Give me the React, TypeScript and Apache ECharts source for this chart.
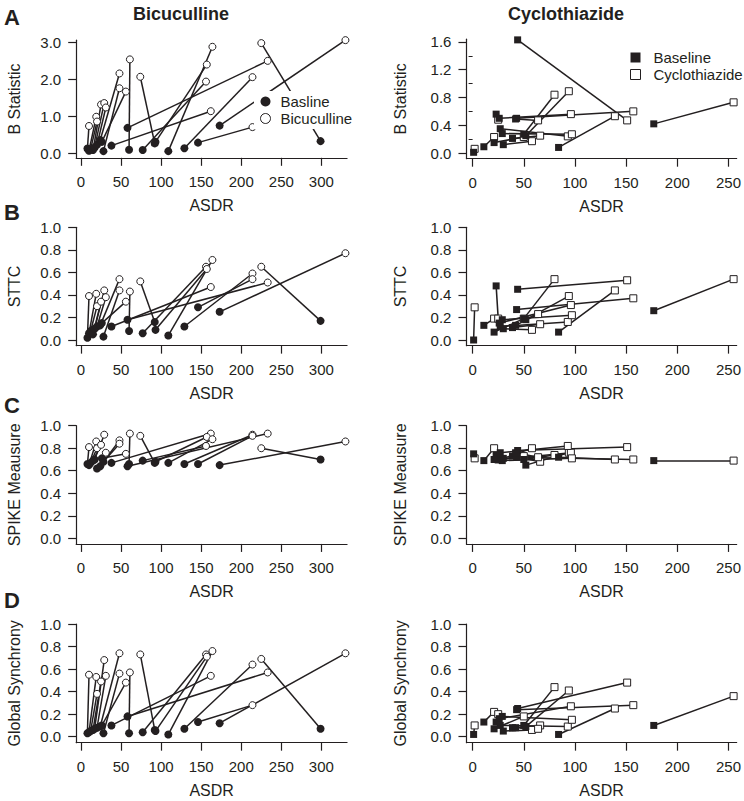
import React, { useEffect, useRef } from "react";
import * as echarts from "echarts";

const INK = "#231f20";
const FONT = "Liberation Sans, Arial, Helvetica, sans-serif";

// ---------- Bicuculline experiments (baseline -> drug) ----------
const bicBaseASDR = [60, 92, 58, 38, 77, 93, 109, 129, 146, 173, 299, 8, 10, 12, 15, 17, 20, 24, 28, 26];
const bicDrugASDR = [61, 74, 233, 162, 156, 157, 164, 214, 214, 330, 225, 10, 19, 20, 25, 29, 31, 48, 48, 56];
const bicBaseB = [0.09, 0.26, 0.68, 0.2, 0.08, 0.3, 0.05, 0.13, 0.28, 0.74, 0.32, 0.12, 0.06, 0.1, 0.08, 0.15, 0.22, 0.35, 0.05, 0.3];
const bicDrugB = [2.53, 2.06, 2.49, 1.13, 1.93, 2.39, 2.87, 2.05, 0.7, 3.05, 2.97, 0.73, 0.98, 0.85, 1.31, 1.35, 1.23, 2.15, 1.75, 1.66];
const bicBaseSTTC = [0.08, 0.16, 0.18, 0.12, 0.06, 0.09, 0.04, 0.12, 0.29, 0.25, 0.17, 0.02, 0.06, 0.08, 0.05, 0.1, 0.12, 0.13, 0.03, 0.15];
const bicDrugSTTC = [0.43, 0.52, 0.51, 0.47, 0.65, 0.63, 0.71, 0.59, 0.54, 0.77, 0.65, 0.39, 0.41, 0.3, 0.34, 0.44, 0.38, 0.54, 0.44, 0.34];
const bicBaseSPIKE = [0.66, 0.67, 0.64, 0.67, 0.69, 0.68, 0.67, 0.66, 0.66, 0.65, 0.7, 0.66, 0.65, 0.67, 0.69, 0.7, 0.62, 0.64, 0.68, 0.71];
const bicDrugSPIKE = [0.93, 0.91, 0.93, 0.93, 0.82, 0.9, 0.88, 0.92, 0.91, 0.86, 0.8, 0.81, 0.86, 0.8, 0.83, 0.92, 0.76, 0.87, 0.84, 0.75];
const bicBaseGS = [0.03, 0.06, 0.18, 0.1, 0.04, 0.05, 0.02, 0.07, 0.13, 0.12, 0.07, 0.03, 0.04, 0.05, 0.06, 0.07, 0.08, 0.09, 0.03, 0.1];
const bicDrugGS = [0.57, 0.73, 0.57, 0.54, 0.73, 0.71, 0.76, 0.64, 0.28, 0.74, 0.69, 0.55, 0.53, 0.38, 0.49, 0.68, 0.54, 0.74, 0.56, 0.48];

// ---------- Cyclothiazide experiments (baseline -> drug) ----------
const ctzBaseASDR = [1, 11, 23, 44, 43, 50, 52, 84, 177, 26, 27, 29, 30, 39, 42, 21];
const ctzDrugASDR = [2, 21, 25, 151, 157, 80, 94, 139, 255, 96, 93, 97, 58, 66, 64, 50];
const ctzBaseB = [0.01, 0.09, 0.56, 1.63, 0.5, 0.27, 0.25, 0.08, 0.42, 0.5, 0.35, 0.28, 0.12, 0.21, 0.49, 0.15];
const ctzDrugB = [0.06, 0.23, 0.48, 0.47, 0.6, 0.84, 0.89, 0.53, 0.73, 0.56, 0.24, 0.27, 0.17, 0.25, 0.47, 0.23];
const ctzBaseSTTC = [0.0, 0.13, 0.48, 0.45, 0.27, 0.19, 0.18, 0.07, 0.26, 0.15, 0.12, 0.18, 0.1, 0.11, 0.13, 0.07];
const ctzDrugSTTC = [0.29, 0.19, 0.19, 0.53, 0.37, 0.54, 0.39, 0.44, 0.54, 0.31, 0.16, 0.22, 0.09, 0.14, 0.23, 0.19];
const ctzBaseSPIKE = [0.75, 0.69, 0.74, 0.78, 0.72, 0.7, 0.65, 0.72, 0.69, 0.7, 0.76, 0.69, 0.71, 0.73, 0.76, 0.7];
const ctzDrugSPIKE = [0.71, 0.8, 0.7, 0.81, 0.7, 0.74, 0.76, 0.7, 0.69, 0.76, 0.82, 0.71, 0.8, 0.68, 0.72, 0.73];
const ctzBaseGS = [0.02, 0.13, 0.13, 0.25, 0.24, 0.1, 0.09, 0.02, 0.1, 0.16, 0.1, 0.18, 0.05, 0.08, 0.08, 0.07];
const ctzDrugGS = [0.1, 0.22, 0.2, 0.48, 0.28, 0.44, 0.41, 0.25, 0.36, 0.27, 0.09, 0.15, 0.06, 0.1, 0.07, 0.18];

// ---------- tick labels ----------
const leftXTicks = [0, 50, 100, 150, 200, 250, 300];
const rightXTicks = [0, 50, 100, 150, 200, 250];
const leftBTicks = [0, 1, 2, 3];
const rightBTicks = [0, 0.4, 0.8, 1.2, 1.6];
const rightBMinor = [0.2, 0.6, 1.0, 1.4];
const unitTicks = [0, 0.2, 0.4, 0.6, 0.8, 1.0];

const metricNames = ["B Statistic", "STTC", "SPIKE Meausure", "Global Synchrony"];
const titles = ["Bicuculline", "Cyclothiazide"];
const panelLetters = ["A", "B", "C", "D"];
const legendLeft = ["Basline", "Bicuculline"];
const legendRight = ["Baseline", "Cyclothiazide"];

export default function App() {
  const ref = useRef<HTMLDivElement>(null);

  useEffect(() => {
    if (!ref.current) return;
    const chart = echarts.init(ref.current, undefined, { renderer: "svg" });

    // layout (pixels)
    const rows = [
      { top0: 153, pxPerUnit: [37, 69.4], yMin: [-0.13, -0.082], yMax: [3.05, 1.64] },
      { top0: 340, pxPerUnit: [112.7, 112.7], yMin: [-0.05, -0.05], yMax: [1.0, 1.0] },
      { top0: 538.3, pxPerUnit: [112.6, 112.6], yMin: [-0.05, -0.05], yMax: [1.0, 1.0] },
      { top0: 736.7, pxPerUnit: [112.7, 112.7], yMin: [-0.053, -0.053], yMax: [1.0, 1.0] },
    ];
    const cols = [
      { zeroX: 81, pxPerUnit: 0.8013, xMin: -6, xMax: 332, ticks: leftXTicks, nameGap: 54 },
      { zeroX: 472.7, pxPerUnit: 1.04, xMin: -6, xMax: 258, ticks: rightXTicks, nameGap: 58 },
    ];

    const grids: any[] = [];
    const xAxes: any[] = [];
    const yAxes: any[] = [];
    const series: any[] = [];

    const data = [
      [
        [bicBaseB, bicDrugB],
        [bicBaseSTTC, bicDrugSTTC],
        [bicBaseSPIKE, bicDrugSPIKE],
        [bicBaseGS, bicDrugGS],
      ],
      [
        [ctzBaseB, ctzDrugB],
        [ctzBaseSTTC, ctzDrugSTTC],
        [ctzBaseSPIKE, ctzDrugSPIKE],
        [ctzBaseGS, ctzDrugGS],
      ],
    ];

    const axisText = { color: INK, fontFamily: FONT, fontSize: 15 };

    for (let r = 0; r < 4; r++) {
      for (let c = 0; c < 2; c++) {
        const row = rows[r];
        const col = cols[c];
        const ppu = row.pxPerUnit[c];
        const yMin = row.yMin[c];
        const yMax = row.yMax[c];
        const gi = grids.length;
        grids.push({
          left: col.zeroX + col.xMin * col.pxPerUnit,
          width: (col.xMax - col.xMin) * col.pxPerUnit,
          top: row.top0 - yMax * ppu,
          height: (yMax - yMin) * ppu,
          containLabel: false,
        });
        xAxes.push({
          type: "value",
          gridIndex: gi,
          min: col.xMin,
          max: col.xMax,
          axisLine: { show: true, onZero: false, lineStyle: { color: INK, width: 1.2 } },
          axisTick: { show: true, length: 8, customValues: col.ticks, lineStyle: { color: INK, width: 1.2 } },
          axisLabel: { customValues: col.ticks, formatter: (v: number) => String(v), margin: 16, ...axisText },
          splitLine: { show: false },
          name: "ASDR",
          nameLocation: "middle",
          nameGap: 40,
          nameTextStyle: { color: INK, fontFamily: FONT, fontSize: 16 },
        });
        let yt = unitTicks;
        if (r === 0) yt = c === 0 ? leftBTicks : rightBTicks;
        const yi = yAxes.length;
        yAxes.push({
          type: "value",
          gridIndex: gi,
          position: "left",
          min: yMin,
          max: yMax,
          axisLine: { show: true, onZero: false, lineStyle: { color: INK, width: 1.2 } },
          axisTick: { show: true, length: 8, customValues: yt, lineStyle: { color: INK, width: 1.2 } },
          axisLabel: { customValues: yt, formatter: (v: number) => v.toFixed(1), margin: 15, ...axisText },
          splitLine: { show: false },
          name: metricNames[r],
          nameLocation: "middle",
          nameGap: col.nameGap,
          nameTextStyle: { color: INK, fontFamily: FONT, fontSize: 16 },
        });
        if (r === 0 && c === 1) {
          yAxes.push({
            type: "value",
            gridIndex: gi,
            position: "left",
            min: yMin,
            max: yMax,
            axisLine: { show: false },
            axisTick: { show: true, length: 4, customValues: rightBMinor, lineStyle: { color: INK, width: 1 } },
            axisLabel: { show: false },
            splitLine: { show: false },
          });
        }

        const baseX = c === 0 ? bicBaseASDR : ctzBaseASDR;
        const drugX = c === 0 ? bicDrugASDR : ctzDrugASDR;
        const [baseY, drugY] = data[c][r];
        const names = c === 0 ? legendLeft : legendRight;
        const sym = c === 0 ? "circle" : "rect";

        series.push({
          type: "lines",
          coordinateSystem: "cartesian2d",
          xAxisIndex: gi,
          yAxisIndex: yi,
          silent: true,
          z: 2,
          lineStyle: { color: INK, width: 1.5, opacity: 1, type: "solid" },
          data: baseX.map((x, i) => ({ coords: [[x, baseY[i]], [drugX[i], drugY[i]]] })),
        });
        series.push({
          type: "scatter",
          name: names[1],
          xAxisIndex: gi,
          yAxisIndex: yi,
          clip: false,
          symbol: sym,
          symbolSize: 7,
          z: 3,
          itemStyle: { color: "#ffffff", borderColor: INK, borderWidth: 1, opacity: 1 },
          data: drugX.map((x, i) => [x, drugY[i]]),
        });
        series.push({
          type: "scatter",
          name: names[0],
          xAxisIndex: gi,
          yAxisIndex: yi,
          clip: false,
          symbol: sym,
          symbolSize: c === 0 ? 8 : 7,
          z: 4,
          itemStyle: { color: INK, opacity: 1 },
          data: baseX.map((x, i) => [x, baseY[i]]),
        });
      }
    }

    const legendCommon = {
      orient: "vertical",
      backgroundColor: "#ffffff",
      itemWidth: 10,
      itemHeight: 10,
      itemGap: 2,
      selectedMode: false,
      itemStyle: { borderWidth: 1 },
      z: 10,
    };

    const graphics: any[] = [];
    titles.forEach((t, i) => {
      graphics.push({
        type: "text",
        x: i === 0 ? 181 : 566,
        y: 14,
        style: { text: t, fill: INK, font: `bold 18px ${FONT}`, textAlign: "center", textVerticalAlign: "middle" },
      });
    });
    const letterY = [17, 212, 405, 600];
    panelLetters.forEach((l, i) => {
      graphics.push({
        type: "text",
        x: 4,
        y: letterY[i],
        style: { text: l, fill: INK, font: `bold 22px ${FONT}`, textAlign: "left", textVerticalAlign: "middle" },
      });
    });

    chart.setOption({
      animation: false,
      backgroundColor: "#ffffff",
      grid: grids,
      xAxis: xAxes,
      yAxis: yAxes,
      series,
      legend: [
        {
          ...legendCommon,
          left: 254,
          top: 91,
          padding: [3, 6, 3, 6],
          data: legendLeft,
          textStyle: { color: INK, fontFamily: FONT, fontSize: 15, padding: [0, 0, 0, 5] },
        },
        {
          ...legendCommon,
          left: 624,
          top: 47,
          padding: [3, 4, 3, 6],
          data: legendRight,
          textStyle: { color: INK, fontFamily: FONT, fontSize: 15, padding: [0, 0, 0, 8] },
        },
      ],
      graphic: graphics,
    });

    return () => chart.dispose();
  }, []);

  return (
    <div
      ref={ref}
      style={{ position: "absolute", left: 0, top: 0, width: 744, height: 801, background: "#fff" }}
    />
  );
}
